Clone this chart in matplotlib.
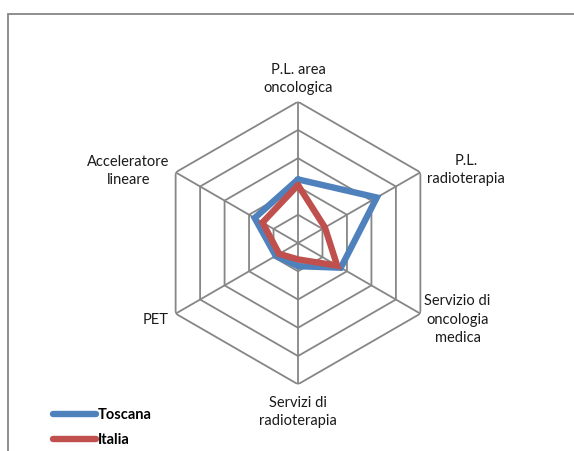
import numpy as np
import matplotlib.pyplot as plt
from matplotlib.patches import Rectangle

plt.rcParams['font.family'] = ['Lato', 'DejaVu Sans']

categorie = ['P.L. area\noncologica', 'P.L.\nradioterapia', 'Servizio di\noncologia\nmedica',
             'Servizi di\nradioterapia', 'PET', 'Acceleratore\nlineare']
toscana = [2.25, 3.22, 1.75, 0.82, 0.91, 1.77]
italia = [2.05, 1.1, 1.6, 0.58, 0.77, 1.45]
anelli = [1, 2, 3, 4, 5]

blu = '#4F81BD'
rosso = '#C0504D'
grigio = '#868686'

W, H = 574, 451
fig = plt.figure(figsize=(W / 100, H / 100), dpi=100)

# cornice esterna
fig.patches.append(Rectangle((8 / W, -0.2), 1.2, 1.2 - 14 / H, transform=fig.transFigure,
                             fill=False, edgecolor=grigio, linewidth=1.3))

cx, cy, R = 298, 243, 141.3
ax = fig.add_axes([(cx - R) / W, (H - cy - R) / H, 2 * R / W, 2 * R / H], projection='polar')
ax.set_theta_offset(np.pi / 2)
ax.set_theta_direction(-1)
ax.set_ylim(0, 5)
ax.grid(False)
ax.set_xticks([])
ax.set_yticks([])
ax.spines['polar'].set_visible(False)
ax.patch.set_alpha(0)

n = len(categorie)
ang = np.linspace(0, 2 * np.pi, n, endpoint=False)
chiuso = np.append(ang, ang[0])

for r in anelli:
    ax.plot(chiuso, [r] * (n + 1), color=grigio, lw=1.3, zorder=1)
for a in ang:
    ax.plot([a, a], [0, anelli[-1]], color=grigio, lw=1.3, zorder=1)

ax.plot(chiuso, toscana + toscana[:1], color=blu, lw=4.6, solid_joinstyle='miter',
        solid_capstyle='round', label='Toscana', zorder=3)
ax.plot(chiuso, italia + italia[:1], color=rosso, lw=4.6, solid_joinstyle='miter',
        solid_capstyle='round', label='Italia', zorder=4)

pos = [((0, 7), 'center', 'bottom'), ((7, 2), 'left', 'center'), ((4, -6), 'left', 'center'),
       ((0, -12), 'center', 'top'), ((-7, -6), 'right', 'center'), ((-6, 1), 'right', 'center')]
for a, lab, (off, ha, va) in zip(ang, categorie, pos):
    ax.annotate(lab, xy=(a, anelli[-1]), xytext=off, textcoords='offset pixels',
                ha=ha, va=va, multialignment='center', fontsize=10.5, color='#1a1a1a',
                linespacing=1.38, annotation_clip=False)

fig.legend(loc='upper left', bbox_to_anchor=(46 / W, 1 - 401 / H), frameon=False,
           handlelength=2.9, handletextpad=0.15, labelspacing=0.75, borderpad=0,
           prop={'weight': 'bold', 'size': 10.5})

fig.savefig('out.png', dpi=100)
